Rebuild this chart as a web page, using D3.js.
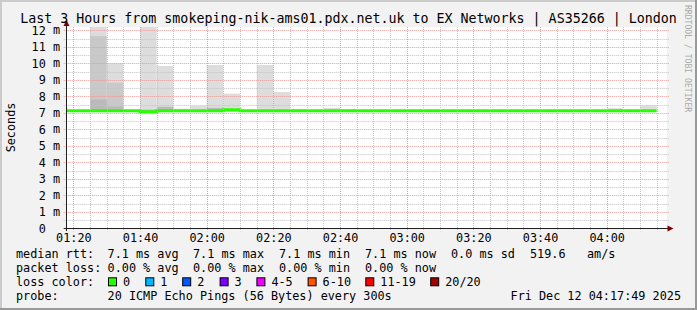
<!DOCTYPE html>
<html><head><meta charset="utf-8">
<script src="https://cdn.jsdelivr.net/npm/d3@7"></script>
<style>
html,body{margin:0;padding:0;background:#f2f2f2;}
svg{display:block;}
text{font-family:"DejaVu Sans Mono",monospace;}
</style>
</head><body>
<svg id="c" width="697" height="310"></svg>
<script>
// ---------- data ----------
const title = "Last 3 Hours from smokeping-nik-ams01.pdx.net.uk to EX Networks | AS35266 | London";
const yAxisTitle = "Seconds";
const binTimes = ["01:15","01:20","01:25","01:30","01:35","01:40","01:45","01:50","01:55",
  "02:00","02:05","02:10","02:15","02:20","02:25","02:30","02:35","02:40","02:45","02:50","02:55",
  "03:00","03:05","03:10","03:15","03:20","03:25","03:30","03:35","03:40","03:45","03:50","03:55",
  "04:00","04:05","04:10"];
// median rtt (ms)
const medianMs = [7.13,7.13,7.13,7.13,7.13,7.07,7.13,7.13,7.13,
  7.13,7.19,7.12,7.13,7.13,7.13,7.13,7.13,7.13,7.13,7.13,7.13,
  7.13,7.13,7.13,7.13,7.13,7.13,7.13,7.13,7.13,7.13,7.13,7.13,
  7.13,7.13,7.13];
// smoke (ping spread) per bin, ms; null = no visible smoke
const smokeMinMs = [null,null,7.05,7.05,null,7.02,7.05,7.05,7.05,
  7.05,7.05,null,7.05,7.05,7.05,null,7.05,7.05,null,null,null,
  null,null,null,null,null,null,null,null,null,null,null,null,
  7.05,null,7.05];
const smokeMaxMs = [null,null,12.6,10.0,null,12.6,9.84,7.25,7.42,
  9.9,8.16,null,9.9,8.26,7.24,null,7.3,7.22,null,null,null,
  null,null,null,null,null,null,null,null,null,null,null,null,
  7.28,null,7.44];
const smokeMidMs = [null,null,11.65,8.83,null,null,null,null,null,
  null,null,null,null,null,null,null,null,null,null,null,null,
  null,null,null,null,null,null,null,null,null,null,null,null,
  null,null,null];
const smokeDarkMs = [null,null,7.8,7.38,null,7.2,7.36,null,null,
  7.3,null,null,null,null,null,null,null,null,null,null,null,
  null,null,null,null,null,null,null,null,null,null,null,null,
  null,null,null];
const yTicks = [0,1,2,3,4,5,6,7,8,9,10,11,12];
const xTickLabels = ["01:20","01:40","02:00","02:20","02:40","03:00","03:20","03:40","04:00"];
const rttStats = ["7.1 ms avg","7.1 ms max","7.1 ms min","7.1 ms now","0.0 ms sd","519.6","am/s"];
const lossStats = ["0.00 % avg","0.00 % max","0.00 % min","0.00 % now"];
const lossLabels = ["0","1","2","3","4-5","6-10","11-19","20/20"];
const lossColors = ["#26ff00","#00b8ff","#0059ff","#7e00ff","#f000ff","#ff5500","#ff0000","#a10000"];
const probeText = "20 ICMP Echo Pings (56 Bytes) every 300s";
const dateText = "Fri Dec 12 04:17:49 2025";
const timeStart = "01:18", timeEnd = "04:18";

// ---------- drawing ----------
const svg = d3.select("#c");
const W = 697, H = 310;
const FS = 11.8;
const parse = s => d3.timeParse("%Y-%m-%d %H:%M")("2025-12-12 " + s);
const L = 66.7, R = 666.7, T = 27, B = 228.3;
const x = d3.scaleTime().domain([parse(timeStart), parse(timeEnd)]).range([L, R]);
const y = d3.scaleLinear().domain([0, 12.2]).range([B, T]);

// background + 3D border
svg.append("rect").attr("width", W).attr("height", H).attr("fill", "#f2f2f2");
svg.append("rect").attr("x",0).attr("y",0).attr("width",W).attr("height",2).attr("fill","#cbcbcb");
svg.append("rect").attr("x",0).attr("y",0).attr("width",2).attr("height",H).attr("fill","#cbcbcb");
svg.append("rect").attr("x",0).attr("y",H-2).attr("width",W).attr("height",2).attr("fill","#999");
svg.append("rect").attr("x",W-2).attr("y",0).attr("width",2).attr("height",H).attr("fill","#999");

// canvas
svg.append("rect").attr("x", L).attr("y", T).attr("width", R - L).attr("height", B - T).attr("fill", "#fff");
svg.append("clipPath").attr("id","pc").append("rect").attr("x", L).attr("y", T).attr("width", R - L).attr("height", B - T + 2);

const bins = binTimes.map((t, i) => ({
  t0: parse(t), t1: d3.timeMinute.offset(parse(t), 5),
  med: medianMs[i], mn: smokeMinMs[i], mx: smokeMaxMs[i], mid: smokeMidMs[i], dk: smokeDarkMs[i]
}));

const plot = svg.append("g").attr("clip-path", "url(#pc)");
function layer(key, color) {
  plot.selectAll(null).data(bins.filter(d => d[key] != null && d.mn != null)).join("rect")
    .attr("x", d => x(d.t0)).attr("width", d => x(d.t1) - x(d.t0))
    .attr("y", d => y(d[key])).attr("height", d => y(d.mn) - y(d[key]))
    .attr("fill", color);
}
layer("mx", "#dddddd");
layer("mid", "#c9c9c9");
layer("dk", "#bababa");

// grid (on top of smoke)
const grid = svg.append("g");
const minorX = d3.timeMinute.every(5).range(parse("01:20"), parse(timeEnd));
const majorX = xTickLabels.map(parse);
grid.selectAll(null).data(minorX.filter(d => d.getMinutes() % 20 !== 0)).join("line")
  .attr("x1", d => Math.round(x(d)) + 0.5).attr("x2", d => Math.round(x(d)) + 0.5)
  .attr("y1", T).attr("y2", B + 3)
  .attr("stroke", "#c4c4c4").attr("stroke-dasharray", "1,1");
const minorY = d3.range(1, 25).map(v => v / 2).filter(v => v % 1 !== 0);
grid.selectAll(null).data(minorY).join("line")
  .attr("y1", d => Math.round(y(d)) + 0.5).attr("y2", d => Math.round(y(d)) + 0.5)
  .attr("x1", L - 3).attr("x2", R + 2)
  .attr("stroke", "#c4c4c4").attr("stroke-dasharray", "1,1");
grid.selectAll(null).data(majorX).join("line")
  .attr("x1", d => Math.round(x(d)) + 0.5).attr("x2", d => Math.round(x(d)) + 0.5)
  .attr("y1", T).attr("y2", B + 3)
  .attr("stroke", "#ec9a9a").attr("stroke-dasharray", "1,1");
grid.selectAll(null).data(yTicks.filter(v => v > 0)).join("line")
  .attr("y1", d => Math.round(y(d)) + 0.5).attr("y2", d => Math.round(y(d)) + 0.5)
  .attr("x1", L - 3).attr("x2", R + 2)
  .attr("stroke", "#ec9a9a").attr("stroke-dasharray", "1,1");

// median line
const medPts = bins.map(d => [d.t0, d.med]).concat([[bins[bins.length - 1].t1, bins[bins.length - 1].med]]);
plot.append("path").datum(medPts)
  .attr("d", d3.line().x(d => x(d[0])).y(d => y(d[1])).curve(d3.curveStepAfter))
  .attr("fill", "none").attr("stroke", lossColors[0]).attr("stroke-width", 3);

// axes lines + arrows
svg.append("line").attr("x1", L - 3).attr("x2", 670).attr("y1", 228.5).attr("y2", 228.5).attr("stroke", "#202020");
svg.append("line").attr("x1", 66.5).attr("x2", 66.5).attr("y1", 231).attr("y2", 24).attr("stroke", "#202020");
svg.append("path").attr("d", "M673.5,228.5 L667.5,225.5 L667.5,231.5 Z").attr("fill", "#7f0000");
svg.append("path").attr("d", "M66.5,20 L63.5,26 L69.5,26 Z").attr("fill", "#7f0000");

// y axis labels
const yAx = svg.append("g").attr("transform", "translate(" + (60 - 2 * 7.1) + ",0)")
  .call(d3.axisLeft(y).tickValues(yTicks).tickSize(0).tickPadding(0)
    .tickFormat(d => d === 0 ? "0" : String(d)));
yAx.select(".domain").remove();
yAx.selectAll("text").attr("font-family", "DejaVu Sans Mono").attr("font-size", FS).attr("fill", "#000")
  .attr("dy", null).attr("dominant-baseline", "central").attr("x", 0);
svg.append("g").selectAll(null).data(yTicks.filter(v => v > 0)).join("text")
  .attr("x", 60).attr("y", d => y(d)).attr("text-anchor", "end").attr("dominant-baseline", "central")
  .attr("font-size", FS).attr("fill", "#000").text("m");

// x axis labels
const xAx = svg.append("g").attr("transform", "translate(0,237.7)")
  .call(d3.axisBottom(x).tickValues(majorX).tickSize(0).tickPadding(0).tickFormat(d3.timeFormat("%H:%M")));
xAx.select(".domain").remove();
xAx.selectAll("text").attr("font-family", "DejaVu Sans Mono").attr("font-size", FS).attr("fill", "#000")
  .attr("dy", null).attr("y", 0).attr("dominant-baseline", "central");

// titles
svg.append("text").attr("x", 348.5).attr("y", 18.3).attr("text-anchor", "middle").attr("dominant-baseline", "central")
  .attr("font-size", 13.3).attr("fill", "#000").text(title);
svg.append("text").attr("transform", "translate(11,127.5) rotate(-90)").attr("text-anchor", "middle")
  .attr("dominant-baseline", "central").attr("font-size", FS).attr("fill", "#000").text(yAxisTitle);
svg.append("text").attr("transform", "translate(688,5) rotate(90)").attr("text-anchor", "start")
  .attr("dominant-baseline", "central").attr("font-size", 8.1).attr("fill", "#aaaaaa").text("RRDTOOL / TOBI OETIKER");

// legend
const leg = svg.append("g").attr("font-size", FS).attr("fill", "#000").attr("dominant-baseline", "central");
const rows = [254.3, 268.3, 282.3, 296];
leg.append("text").attr("x", 16).attr("y", rows[0]).text("median rtt:");
const rttX = [107.6, 193, 279, 365, 451, 530, 587];
rttStats.forEach((s, i) => leg.append("text").attr("x", rttX[i]).attr("y", rows[0]).text(s));
leg.append("text").attr("x", 16).attr("y", rows[1]).text("packet loss:");
lossStats.forEach((s, i) => leg.append("text").attr("x", rttX[i]).attr("y", rows[1]).text(s));
leg.append("text").attr("x", 16).attr("y", rows[2]).text("loss color:");
const boxX = [108, 145.3, 182.2, 219.6, 256.4, 307.6, 365.3, 430.2];
lossLabels.forEach((s, i) => {
  leg.append("rect").attr("x", boxX[i] + 0.5).attr("y", rows[2] - 4.5).attr("width", 8).attr("height", 8)
    .attr("fill", lossColors[i]).attr("stroke", "#000").attr("stroke-width", 1);
  leg.append("text").attr("x", boxX[i] + 15).attr("y", rows[2]).text(s);
});
leg.append("text").attr("x", 16).attr("y", rows[3]).text("probe:");
leg.append("text").attr("x", 107.6).attr("y", rows[3]).text(probeText);
leg.append("text").attr("x", 681).attr("y", rows[3]).attr("text-anchor", "end").text(dateText);
</script>
</body></html>
